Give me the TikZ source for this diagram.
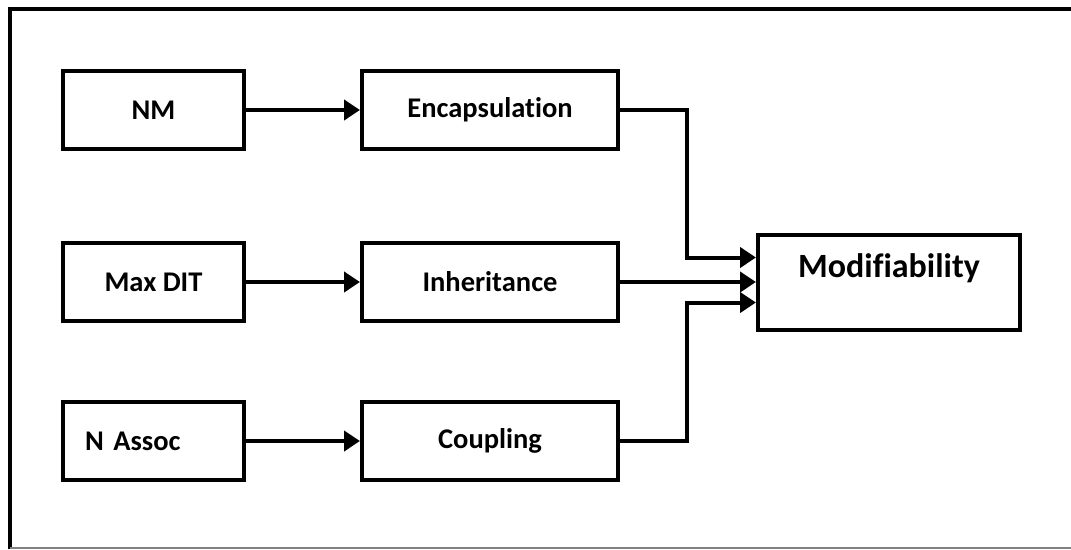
\documentclass[tikz,border=0pt]{standalone}
\usepackage{fontspec}
\setmainfont[Ligatures=NoCommon]{Carlito}
\usetikzlibrary{arrows.meta}

\begin{document}
\begin{tikzpicture}[x=1pt, y=-1pt,
    box/.style={draw, line width=4pt, minimum width=181pt, minimum height=78pt, inner sep=0pt, font=\fontsize{28.5}{32}\selectfont\bfseries},
    flow/.style={line width=4pt, -{Triangle[length=16pt,width=20pt]}}]
  \useasboundingbox (0,0) rectangle (1071,549);
  % Frame
  \draw[line width=4pt] (9.5,549) -- (9.5,8.5) -- (1071,8.5);
  \draw[gray, line width=1.5pt] (9.5,548) -- (1071,548);

  % Nodes
  \node[box] (nm) at (153.5,110) {NM};
  \node[box, minimum width=256pt] (enc) at (490,110) {Encapsulation};
  \node[box] (maxdit) at (153.5,282) {Max DIT};
  \node[box, minimum width=256pt] (inh) at (490,282) {Inheritance};
  \node[box, text width=137pt, inner xsep=22pt, align=left] (nassoc) at (153.5,441) {N Assoc};
  \node[box, minimum width=256pt] (coup) at (490,441) {Coupling};
  \node[box, minimum width=262pt, minimum height=95pt, text height=43pt, text depth=52pt,
        font=\fontsize{34}{40}\selectfont\bfseries] (mod) at (889,282) {Modifiability};
  \coordinate (in1) at ([yshift=24.5pt]mod.west);
  \coordinate (in3) at ([yshift=-20.5pt]mod.west);

  % Edges
  \draw[flow] (nm) -- (enc);
  \draw[flow] (maxdit) -- (inh);
  \draw[flow] (nassoc) -- (coup);
  \draw[flow] (enc.east) -| ([xshift=-69pt]in1) -- (in1);
  \draw[flow] (inh) -- (mod);
  \draw[flow] (coup.east) -| ([xshift=-69pt]in3) -- (in3);
\end{tikzpicture}
\end{document}
